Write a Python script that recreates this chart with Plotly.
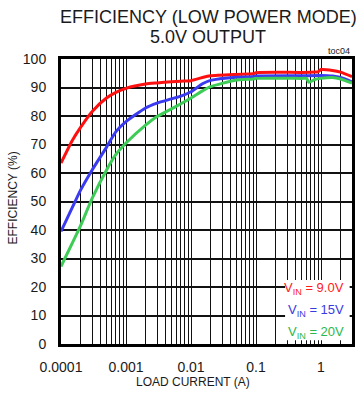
import plotly.graph_objects as go

# Load current (A) and efficiency (%)
red_x = [1e-4, 1.5e-4, 2e-4, 3e-4, 5e-4, 7e-4, 1e-3, 2e-3, 3e-3, 5e-3, 7e-3, 1e-2, 1.5e-2, 2e-2, 5e-2, 9e-2, 1e-1, 5e-1, 8e-1, 0.9, 1.0, 1.5, 2.0, 3.0]
red_y = [63.5, 71.5, 76.0, 81.5, 86.3, 88.3, 89.7, 91.2, 91.6, 92.0, 92.2, 92.4, 93.5, 94.1, 94.6, 94.8, 95.2, 95.3, 95.4, 95.5, 96.3, 96.0, 95.4, 93.8]

blue_x = [1e-4, 1.5e-4, 2e-4, 3e-4, 5e-4, 7e-4, 1e-3, 2e-3, 3e-3, 5e-3, 7e-3, 1e-2, 1.5e-2, 2e-2, 5e-2, 9e-2, 1e-1, 5e-1, 1.0, 1.5, 2.0, 3.0]
blue_y = [39.5, 48.0, 54.0, 61.0, 69.0, 74.5, 78.0, 82.8, 84.5, 86.0, 87.0, 88.5, 91.3, 92.5, 93.6, 93.8, 94.0, 94.1, 94.2, 94.0, 93.5, 92.0]

green_x = [1e-4, 2e-4, 3e-4, 5e-4, 7e-4, 1e-3, 2e-3, 3e-3, 5e-3, 7e-3, 1e-2, 1.5e-2, 2e-2, 5e-2, 9e-2, 1e-1, 5e-1, 0.6, 0.65, 0.8, 1.0, 1.5, 2.0, 3.0]
green_y = [27.2, 41.5, 51.0, 61.0, 66.5, 70.5, 76.8, 79.8, 82.5, 84.3, 86.3, 88.8, 90.3, 92.6, 93.0, 93.2, 93.2, 93.2, 91.8, 92.8, 93.2, 93.5, 93.0, 91.5]

x_tick_vals = [m * 10.0 ** e for e in range(-4, 1) for m in range(1, 10)] + [2.0, 3.0]
x_tick_text = ["0.0001" if v == 1e-4 else "0.001" if v == 1e-3 else "0.01" if v == 1e-2 else "0.1" if v == 1e-1 else "1" if v == 1.0 else "" for v in x_tick_vals]
y_tick_vals = list(range(0, 101, 10))

series = [
    ("V<sub>IN</sub> = 9.0V", red_x, red_y, "#ff1010", "#ff1a1a"),
    ("V<sub>IN</sub> = 15V", blue_x, blue_y, "#3a3af0", "#3a3adf"),
    ("V<sub>IN</sub> = 20V", green_x, green_y, "#3dcc55", "#2cb84a"),
]

FONT = "Arial, Liberation Sans, sans-serif"
fig = go.Figure()
for name, xs, ys, lc, tc in series:
    fig.add_trace(go.Scatter(x=xs, y=ys, mode="lines", name=name,
                             line=dict(color=lc, width=3, shape="spline", smoothing=0.6),
                             showlegend=False))

fig.update_layout(
    width=359, height=394,
    margin=dict(l=61, r=4, t=59, b=50),
    paper_bgcolor="white", plot_bgcolor="white",
    font=dict(family=FONT, color="#1a1a1a"),
    xaxis=dict(type="log", range=[-4, 0.477], tickvals=x_tick_vals, ticktext=x_tick_text,
               showgrid=True, gridcolor="#111111", gridwidth=1,
               showline=True, linecolor="#000000", linewidth=3, mirror=True,
               ticks="", ticklabelstandoff=8, tickfont=dict(size=14), zeroline=False),
    yaxis=dict(range=[0, 100], tickvals=y_tick_vals,
               showgrid=True, gridcolor="#111111", gridwidth=1.5,
               showline=True, linecolor="#000000", linewidth=3, mirror=True,
               ticks="", ticklabelstandoff=9, tickfont=dict(size=14), zeroline=False),
    shapes=[dict(type="rect", xref="paper", yref="paper", x0=0.77, x1=0.992, y0=0.013, y1=0.225,
                 fillcolor="white", line=dict(width=0), layer="above")],
)

ann = [
    dict(text="EFFICIENCY (LOW POWER MODE)", x=210, y=17, size=18, color="#1a1a1a"),
    dict(text="5.0V OUTPUT", x=210, y=37, size=18, color="#1a1a1a"),
    dict(text="toc04", x=None, y=51, size=9, color="#1a1a1a"),
    dict(text="LOAD CURRENT (A)", x=194, y=382, size=12, color="#1a1a1a"),
]
for a in ann:
    if a["x"] is None:
        fig.add_annotation(text=a["text"], xref="paper", yref="paper", x=1.0, xanchor="right",
                           y=1 - (a["y"] - 59) / 285, yanchor="middle", showarrow=False,
                           font=dict(size=a["size"], color=a["color"], family=FONT))
    else:
        fig.add_annotation(text=a["text"], xref="paper", yref="paper",
                           x=(a["x"] - 61) / 294, xanchor="center",
                           y=1 - (a["y"] - 59) / 285, yanchor="middle", showarrow=False,
                           font=dict(size=a["size"], color=a["color"], family=FONT))

fig.add_annotation(text="EFFICIENCY (%)", xref="paper", yref="paper", x=-(61 - 13) / 294, xanchor="center",
                   y=1 - (198 - 59) / 285, yanchor="middle", textangle=-90, showarrow=False,
                   font=dict(size=12, color="#1a1a1a", family=FONT))

for (name, xs, ys, lc, tc), yy in zip(series, [288, 310, 332]):
    fig.add_annotation(text=name, xref="paper", yref="paper", x=(349 - 61) / 294, xanchor="right",
                       y=1 - (yy - 59) / 285, yanchor="middle", showarrow=False,
                       font=dict(size=13, color=tc, family=FONT))

fig.write_html("out.html")
